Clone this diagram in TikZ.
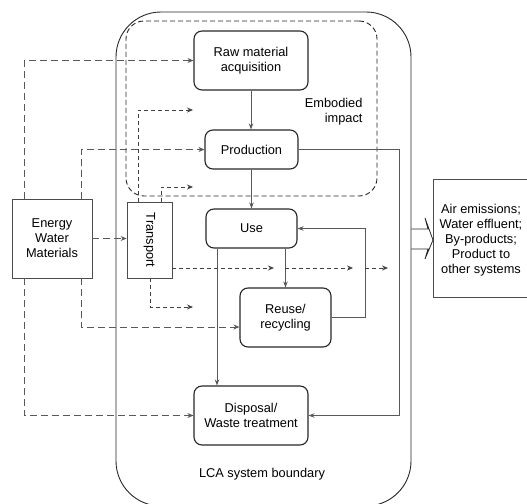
\documentclass[tikz,border=0pt]{standalone}
\usepackage{fontspec}
\setmainfont{Liberation Sans}
\usetikzlibrary{arrows.meta}
\begin{document}
\begin{tikzpicture}[x=1pt,y=-1pt,
  font=\fontsize{12.8}{15}\selectfont,
  stage/.style={draw=black!85, line width=1.1pt, rounded corners=8pt, align=center, inner sep=0pt},
  plainbox/.style={draw=black!70, line width=0.8pt, align=center, inner sep=0pt},
  flow/.style={draw=black!65, line width=0.8pt, -{Stealth[length=6pt,width=4.5pt]}},
  input/.style={draw=black!65, line width=0.8pt, dash pattern=on 7pt off 4pt, -{Stealth[length=6pt,width=5pt]}},
  tinput/.style={draw=black!75, line width=0.8pt, dash pattern=on 4pt off 3pt, -{Stealth[length=6pt,width=5pt]}},
]
\useasboundingbox (0,0) rectangle (527,503);
% system boundary and embodied impact region
\node[draw=black!85, line width=0.9pt, rounded corners=45pt, minimum width=295pt, minimum height=494pt, inner sep=0pt] (boundary) at (263.5,259) {};
\node[draw=black!85, line width=0.9pt, dash pattern=on 5pt off 3pt, rounded corners=18pt, minimum width=251pt, minimum height=175pt, inner sep=0pt] (emb) at (251.5,108.5) {};
\node[align=right, anchor=east] (embl) at (366,112) {Embodied\\impact};
\node (lca) at (262,474) {LCA system boundary};
% stages
\node[stage, minimum width=114pt, minimum height=59pt] (raw) at (251,60.5) {Raw material\\acquisition};
\node[stage, minimum width=93pt, minimum height=39pt] (prod) at (251.5,149.5) {Production};
\node[stage, minimum width=91pt, minimum height=39pt] (use) at (251.5,228.5) {Use};
\node[stage, minimum width=91pt, minimum height=59pt] (reuse) at (285.5,317.5) {Reuse/\\recycling};
\node[stage, minimum width=114pt, minimum height=59pt] (disp) at (251,415.5) {Disposal/\\Waste treatment};
% inputs
\node[plainbox, minimum width=80pt, minimum height=79pt] (emw) at (52,238.5) {Energy\\Water\\Materials};
\node[plainbox, minimum width=45pt, minimum height=76pt] (trans) at (149.5,240) {};
\node[rotate=-90] (transl) at (trans.center) {Transport};
% outputs
\node[plainbox, minimum width=110pt, minimum height=118pt, anchor=west] (out) at (433,238) {};
\node[align=center] (outl) at (481,240) {Air emissions;\\Water effluent;\\By-products;\\Product to\\other systems};
% free ends
\coordinate (t1) at (193,110);
\coordinate (t2) at (193,187);
\coordinate (t3) at (274,268);
\coordinate (t4a) at (285,268);
\coordinate (t4) at (353,268);
\coordinate (t5a) at (365,268);
\coordinate (t5) at (388,268);
\coordinate (t6) at (193,307);
\coordinate (pr) at (399,149.5);
% main flows
\draw[flow] (raw.south) -- (raw.south |- prod.north);
\draw[flow] (prod.south) -- (prod.south |- use.north);
\draw[flow] (reuse.north |- use.south) -- (reuse.north);
\draw[flow] ([xshift=-34.5pt]use.south) -- ([xshift=-34.5pt]use.south |- disp.north);
\draw[flow] (reuse.east) -- ++(34,0) |- (use.east);
\draw[flow] (prod.east) -- (pr) |- (disp.east);
% energy/water/materials inputs
\draw[input] ([xshift=-28pt]emw.north) |- (raw.west);
\draw[input] ([xshift=29pt]emw.north) |- (prod.west);
\draw[input] (emw.east) -- (emw.east -| trans.west);
\draw[input] ([xshift=29pt]emw.south) |- ([yshift=-9.5pt]reuse.west);
\draw[input] ([xshift=-28pt]emw.south) |- (disp.west);
% transport inputs
\draw[tinput] ([xshift=-11.5pt]trans.north) |- (t1);
\draw[tinput] ([xshift=11.5pt]trans.north) |- (t2);
\draw[tinput] ([yshift=-28pt]trans.east) -- (t3);
\draw[tinput] (t4a) -- (t4);
\draw[tinput] (t5a) -- (t5);
\draw[tinput] ([xshift=0.5pt]trans.south) |- (t6);
% output arrow
\draw[draw=black!85, line width=0.8pt] (boundary.east |- 0,229) -- (428,229) -- (425,218) -- (433,240) -- (425,259) -- (428,249) -- (boundary.east |- 0,249);
\end{tikzpicture}
\end{document}
